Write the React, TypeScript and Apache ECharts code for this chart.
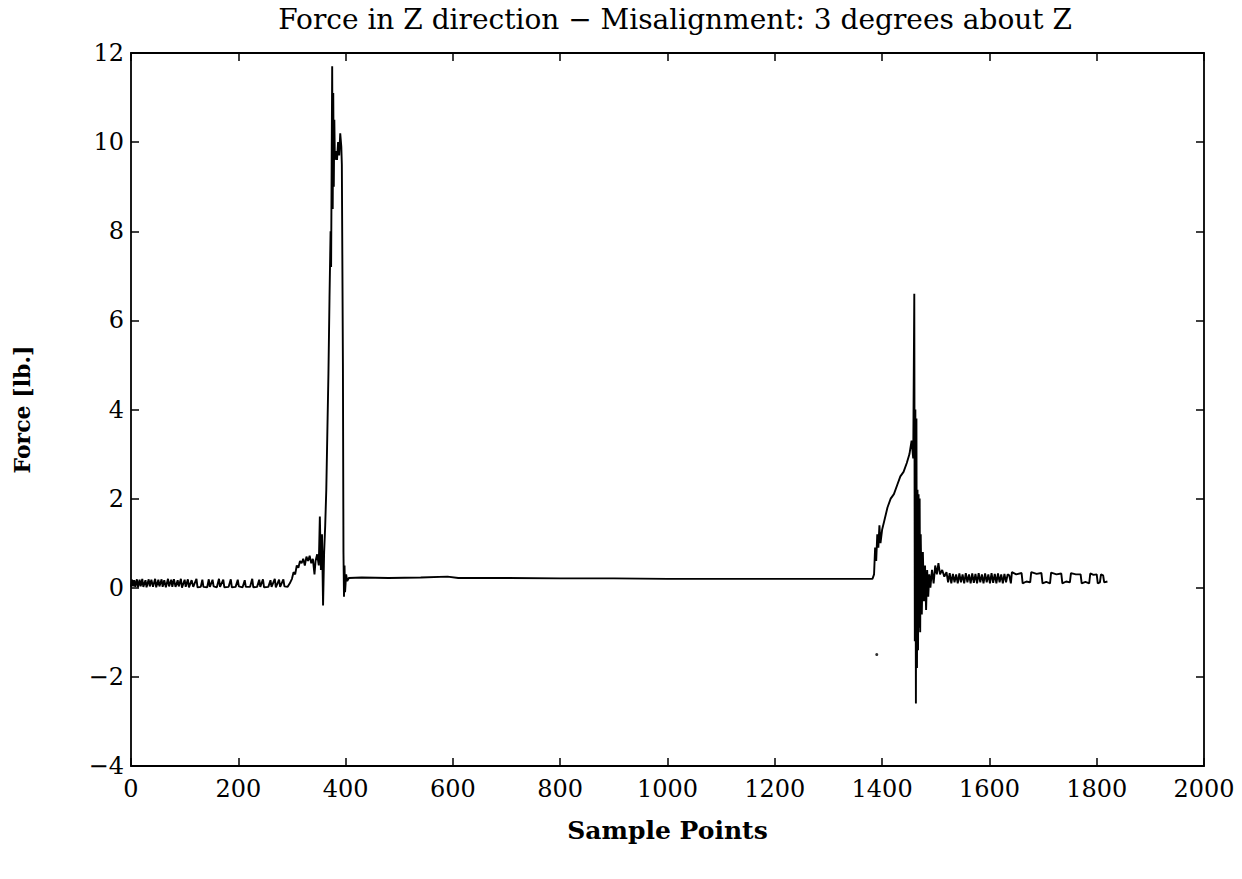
import React, { useEffect, useRef } from "react";
import * as echarts from "echarts";

const xTicks = { min: 0, max: 2000, interval: 200 };
const yTicks = { min: -4, max: 12, interval: 2 };

const idleNoise: [number, number][] = [
  [0,0.02],[2,0.18],[4,0.03],[6,0.17],[8,0.02],[11,0.19],[13,0.01],[16,0.18],[18,0.03],[21,0.2],[23,0.02],[27,0.17],[29,0.01],[33,0.19],[35,0.03],[38,0.18],[41,0.02],[45,0.2],[47,0.01],[51,0.18],[53,0.03],[57,0.19],[59,0.02],[62,0.17],[65,0.01],[69,0.2],[71,0.03],[75,0.18],[77,0.02],[80,0.19],[83,0.02],[87,0.17],[89,0.03],[93,0.2],[95,0.0],[100,0.18],[102,0.02],[106,0.19],[108,0.01],[113,0.17],[116,0.02],[122,0.2],[124,0.01],[130,0.02],[133,0.18],[135,0.02],[142,0.01],[145,0.19],[147,0.02],[152,0.18],[154,0.03],[160,0.01],[164,0.2],[166,0.02],[172,0.18],[174,0.01],[182,0.02],[186,0.19],[188,0.01],[195,0.02],[199,0.18],[201,0.03],[208,0.01],[212,0.17],[214,0.02],[222,0.02],[226,0.2],[228,0.01],[235,0.02],[239,0.18],[241,0.02],[246,0.19],[248,0.01],[256,0.02],[260,0.17],[262,0.02],[268,0.2],[270,0.01],[276,0.18],[278,0.02],[284,0.19],[286,0.03],[292,0.02],[296,0.1]
];

const firstContact: [number, number][] = [
  [300,0.2],[303,0.35],[306,0.3],[309,0.5],[312,0.45],[315,0.6],[318,0.55],[321,0.65],[324,0.5],[327,0.7],[330,0.6],[333,0.72],[336,0.55],[339,0.65],[342,0.3],[344,0.6],[347,0.75],[350,0.5],[352,1.6],[354,0.4],[356,1.2],[358,-0.4],[360,0.8],[362,1.4],[364,2.2],[366,3.5],[368,4.8],[370,6.5],[372,8.0],[373,7.2],[374,9.5],[375,11.7],[376,8.5],[377,11.1],[378,9.0],[379,10.5],[380,9.6],[382,9.8],[384,9.6],[386,10.0],[388,9.7],[390,10.2],[392,9.9],[393,9.5],[395,5.0],[396,0.8],[397,-0.2],[398,0.5],[399,-0.1],[401,0.3],[403,0.15],[406,0.22]
];

const holdPhase: [number, number][] = [
  [430,0.23],[480,0.22],[540,0.23],[590,0.25],[610,0.22],[700,0.22],[800,0.21],[900,0.21],[1000,0.2],[1100,0.2],[1200,0.2],[1300,0.2],[1382,0.2]
];

const secondContact: [number, number][] = [
  [1385,0.3],[1387,0.9],[1389,0.6],[1391,1.2],[1393,0.9],[1395,1.4],[1397,1.0],[1400,1.3],[1404,1.5],[1410,1.8],[1416,2.0],[1422,2.1],[1428,2.3],[1434,2.5],[1440,2.6],[1446,2.8],[1451,3.0],[1455,3.3],[1458,2.9],[1460,6.6],[1461,-1.2],[1462,4.0],[1463,-2.6],[1464,3.8],[1465,-1.8],[1466,2.2],[1467,-1.4],[1468,2.1],[1469,-0.9],[1470,2.0],[1471,-1.0],[1472,1.2],[1474,-0.6],[1476,0.8],[1478,-0.3],[1480,0.5],[1482,-0.5],[1484,0.4],[1486,-0.2],[1488,0.3],[1490,0.0],[1493,0.4],[1496,0.1],[1499,0.5],[1502,0.3],[1505,0.55],[1508,0.3],[1512,0.4],[1516,0.25],[1520,0.35]
];

const settleNoise: [number, number][] = [
  [1523,0.12],[1526,0.33],[1529,0.1],[1532,0.31],[1535,0.12],[1538,0.3],[1541,0.1],[1544,0.32],[1547,0.12],[1550,0.3],[1553,0.1],[1556,0.33],[1559,0.12],[1562,0.3],[1565,0.1],[1568,0.32],[1571,0.11],[1574,0.31],[1577,0.1],[1580,0.33],[1583,0.12],[1586,0.3],[1589,0.1],[1592,0.32],[1595,0.12],[1598,0.3],[1601,0.1],[1604,0.33],[1607,0.11],[1610,0.31],[1613,0.1],[1616,0.32],[1619,0.12],[1622,0.3],[1625,0.1],[1628,0.31],[1631,0.12],[1634,0.3],[1637,0.28]
];

const tailPulses: [number, number][] = [
  [1640,0.1],[1642,0.35],[1650,0.3],[1660,0.33],[1662,0.1],[1669,0.14],[1676,0.12],[1678,0.35],[1688,0.31],[1697,0.33],[1699,0.1],[1706,0.13],[1713,0.1],[1715,0.34],[1725,0.3],[1734,0.32],[1736,0.1],[1743,0.14],[1750,0.12],[1752,0.33],[1761,0.3],[1770,0.3],[1772,0.1],[1779,0.13],[1786,0.1],[1788,0.32],[1794,0.29],[1800,0.3],[1802,0.1],[1806,0.12],[1808,0.3],[1812,0.28],[1814,0.12],[1820,0.14]
];

const strayPoint: [number, number][] = [[1390, -1.5]];

const FONT = "DejaVu Serif";

export default function App() {
  const ref = useRef<HTMLDivElement>(null);
  useEffect(() => {
    if (!ref.current) return;
    const chart = echarts.init(ref.current, null, { renderer: "svg" });
    const trace = [...idleNoise, ...firstContact, ...holdPhase, ...secondContact, ...settleNoise, ...tailPulses];
    const axisLine = { show: true, onZero: false, lineStyle: { color: "#000", width: 1.8 } };
    const tick = { show: true, inside: true, length: 8, lineStyle: { color: "#000", width: 1.5 } };
    const minusFmt = (v: number) => String(v).replace("-", "\u2212");
    chart.setOption({
      animation: false,
      backgroundColor: "#fff",
      title: {
        text: "Force in Z direction \u2212 Misalignment: 3 degrees about Z",
        left: 670,
        top: 0,
        textAlign: "center",
        textStyle: { fontFamily: FONT, fontSize: 28, fontWeight: "normal", color: "#000" },
      },
      grid: { left: 131, right: 38, top: 53, bottom: 113, containLabel: false },
      xAxis: [
        {
          type: "value", position: "bottom", ...xTicks,
          axisLine, axisTick: tick, splitLine: { show: false },
          axisLabel: { color: "#000", fontFamily: FONT, fontSize: 24, margin: 11, formatter: minusFmt },
          name: "Sample Points", nameLocation: "middle", nameGap: 52,
          nameTextStyle: { color: "#000", fontFamily: FONT, fontSize: 25, fontWeight: "bold" },
        },
        {
          type: "value", position: "top", ...xTicks,
          axisLine, axisTick: tick, splitLine: { show: false }, axisLabel: { show: false },
        },
      ],
      yAxis: [
        {
          type: "value", position: "left", ...yTicks,
          axisLine, axisTick: tick, splitLine: { show: false },
          axisLabel: { color: "#000", fontFamily: FONT, fontSize: 24, margin: 7, formatter: minusFmt },
          name: "Force [lb.]", nameLocation: "middle", nameGap: 98, nameRotate: 90,
          nameTextStyle: { color: "#000", fontFamily: FONT, fontSize: 22, fontWeight: "bold" },
        },
        {
          type: "value", position: "right", ...yTicks,
          axisLine, axisTick: tick, splitLine: { show: false }, axisLabel: { show: false },
        },
      ],
      series: [
        {
          type: "line", data: trace, showSymbol: false, symbol: "none",
          lineStyle: { color: "#000", width: 1.9 }, silent: true,
        },
        {
          type: "scatter", data: strayPoint, symbolSize: 3,
          itemStyle: { color: "#000" }, silent: true,
        },
      ],
    });
    return () => chart.dispose();
  }, []);
  return <div ref={ref} style={{ position: "fixed", left: 0, top: 0, width: 1242, height: 879 }} />;
}
